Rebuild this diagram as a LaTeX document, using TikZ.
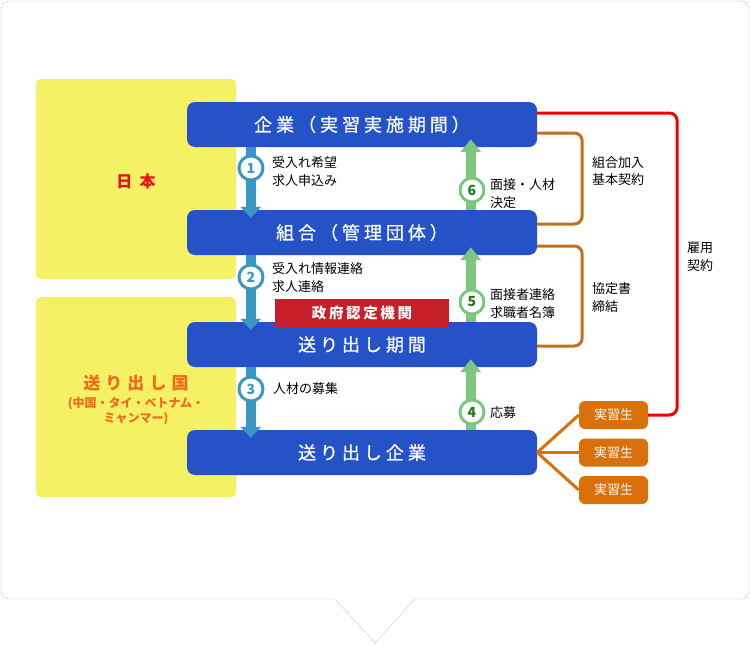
\documentclass[tikz,border=0pt]{standalone}
\usepackage{fontspec}
\setmainfont{Noto Sans CJK JP}
\newfontfamily\titlefont{Noto Sans CJK JP}[LetterSpace=22, FakeBold=0.6]
\newfontfamily\spacedfont{Noto Sans CJK JP}[LetterSpace=18]
\newfontfamily\widefont{Noto Sans CJK JP}[LetterSpace=30]
\usetikzlibrary{arrows.meta}
\definecolor{boxblue}{RGB}{37,83,199}
\definecolor{areayellow}{RGB}{244,242,100}
\definecolor{flowblue}{RGB}{60,150,196}
\definecolor{flowgreen}{RGB}{125,198,125}
\definecolor{numgreen}{RGB}{30,122,30}
\definecolor{contractbrown}{RGB}{194,112,26}
\definecolor{contractred}{RGB}{240,0,0}
\definecolor{traineeorange}{RGB}{217,112,10}
\definecolor{japanred}{RGB}{232,17,26}
\definecolor{senderorange}{RGB}{240,106,26}
\definecolor{govred}{RGB}{200,32,42}
\definecolor{framegray}{RGB}{200,200,200}
\begin{document}
\begin{tikzpicture}[x=1pt, y=-1pt, font=\fontsize{13}{17.5}\selectfont,
    area/.style={fill=areayellow, rounded corners=5pt},
    stage/.style={fill=boxblue, rounded corners=8pt, minimum width=350pt, minimum height=45pt,
      text=white, font=\titlefont\fontsize{18}{20}\selectfont},
    trainee/.style={fill=traineeorange, rounded corners=6pt, minimum width=69pt, minimum height=28pt,
      text=white, font=\fontsize{13}{15}\selectfont},
    note/.style={anchor=west, align=left, inner sep=0pt},
    downarrow/.style={flowblue, line width=10pt, -{Triangle[width=20pt,length=11pt]}},
    uparrow/.style={flowgreen, line width=10pt, -{Triangle[width=20pt,length=13pt]}},
    bnum/.style={circle, draw=flowblue, line width=3pt, fill=white, minimum size=24pt, inner sep=0pt,
      text=flowblue, font=\bfseries\fontsize{14}{14}\selectfont},
    gnum/.style={bnum, draw=flowgreen, text=numgreen},
    bracket/.style={contractbrown, line width=3pt, rounded corners=8pt},
  ]
  \useasboundingbox (0,0) rectangle (750,645);
  % outer frame with pointer
  \draw[framegray, rounded corners=8pt] (335,599) -- (1,599) -- (1,1) -- (749,1) -- (749,599) -- (415,599);
  \draw[framegray] (415,599) -- (375,643) -- (335,599);

  % country areas
  \fill[area] (36,79) rectangle (236,279);
  \fill[area] (36,297) rectangle (236,497);
  \node[text=japanred, font=\bfseries\fontsize{16}{18}\selectfont] (japan) at (136,181) {日\hspace{0.45em}本};
  \node[text=senderorange, font=\widefont\bfseries\fontsize{17}{18}\selectfont] (sender) at (136,383) {送り出し国};
  \node[text=senderorange, align=center, font=\bfseries\fontsize{12}{15}\selectfont] (senderlist) at (136,411)
    {(中国・タイ・ベトナム・\\ミャンマー)};

  % main stages
  \node[stage] (corp) at (362,124.5) {企業（実習実施期間）};
  \node[stage] (union) at (362,232.5) {組合（管理団体）};
  \node[stage] (agency) at (362,344.5) {送り出し期間};
  \node[stage] (sendcorp) at (362,452.5) {送り出し企業};

  % downward flow
  \draw[downarrow] ([xshift=64pt]corp.south west) -- ([xshift=64pt,yshift=-8pt]union.north west);
  \draw[downarrow] ([xshift=64pt]union.south west) -- ([xshift=64pt,yshift=-8pt]agency.north west);
  \draw[downarrow] ([xshift=64pt]agency.south west) -- ([xshift=64pt,yshift=-8pt]sendcorp.north west);
  % upward flow
  \draw[uparrow] ([xshift=284pt]union.north west) -- ([xshift=284pt,yshift=8pt]corp.south west);
  \draw[uparrow] ([xshift=284pt]agency.north west) -- ([xshift=284pt,yshift=8pt]union.south west);
  \draw[uparrow] ([xshift=284pt]sendcorp.north west) -- ([xshift=284pt,yshift=8pt]agency.south west);

  \node[fill=govred, minimum width=174pt, minimum height=28pt, text=white,
    font=\spacedfont\bfseries\fontsize{14.5}{16}\selectfont] (gov) at (362,313) {政府認定機関};

  % step numbers
  \node[bnum] (n1) at (251,168) {1};
  \node[bnum] (n2) at (251,277) {2};
  \node[bnum] (n3) at (251,389) {3};
  \node[gnum] (n4) at (472,412) {4};
  \node[gnum] (n5) at (472,302) {5};
  \node[gnum] (n6) at (472,190) {6};

  % step labels
  \node[note] (l1) at (272,171.5) {受入れ希望\\求人申込み};
  \node[note] (l2) at (272,277.5) {受入れ情報連絡\\求人連絡};
  \node[note] (l3) at (273,389) {人材の募集};
  \node[note] (l4) at (490,413) {応募};
  \node[note] (l5) at (490,303.5) {面接者連絡\\求職者名簿};
  \node[note] (l6) at (490,193.5) {面接・人材\\決定};

  % trainees
  \node[trainee] (t1) at (613.5,415) {実習生};
  \node[trainee] (t2) at (613.5,452.5) {実習生};
  \node[trainee] (t3) at (613.5,490) {実習生};
  \foreach \t in {t1,t2,t3}
    \draw[traineeorange, line width=3pt] (sendcorp.east) -- (\t.west);

  % contracts
  \draw[bracket] ([yshift=-8.5pt]corp.east) -- ++(45,0) |- ([yshift=8.5pt]union.east);
  \draw[bracket] ([yshift=-13.5pt]union.east) -- ++(45,0) |- ([yshift=-1.5pt]agency.east);
  \draw[contractred, line width=3pt, rounded corners=8pt] ([yshift=11.5pt]corp.east) -- ++(140,0) |- (t1.east);
  \node[note] (c1) at (592,171) {組合加入\\基本契約};
  \node[note] (c2) at (592,297.5) {協定書\\締結};
  \node[note] (c3) at (687,257) {雇用\\契約};
\end{tikzpicture}
\end{document}
